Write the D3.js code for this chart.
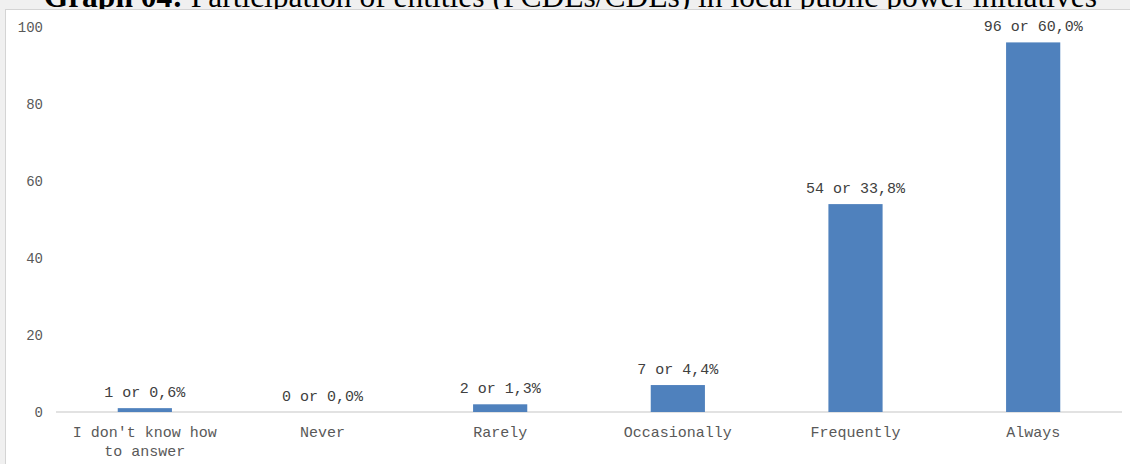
<!DOCTYPE html>
<html>
<head>
<meta charset="utf-8">
<script src="https://cdn.jsdelivr.net/npm/d3@7/dist/d3.min.js"></script>
<style>
  html, body { margin: 0; padding: 0; background: #f0f0f0; }
  svg { display: block; }
</style>
</head>
<body>
<svg id="chart" width="1130" height="464"></svg>
<script>
// Survey answers: counts and share of respondents
const categories = ["I don't know how|to answer", "Never", "Rarely", "Occasionally", "Frequently", "Always"];
const counts = [1, 0, 2, 7, 54, 96];
const shares = ["0,6%", "0,0%", "1,3%", "4,4%", "33,8%", "60,0%"];
const yTicks = [0, 20, 40, 60, 80, 100];
const titleBold = "Graph 04:";
const titleRest = " Participation of entities (PCDEs/CDEs) in local public power initiatives";

const W = 1130, H = 464;
const svg = d3.select("#chart");

// Title (sits above the plot frame, its top runs off the page)
const title = svg.append("text")
  .attr("x", 1097).attr("y", 7)
  .attr("text-anchor", "end")
  .attr("font-family", "'Liberation Serif', 'Times New Roman', serif")
  .attr("font-size", 31.5)
  .attr("fill", "#000");
title.append("tspan").attr("font-weight", "bold").text(titleBold);
title.append("tspan").text(titleRest);

// White plot panel with a light frame
svg.append("rect")
  .attr("x", 5.5).attr("y", 9.5)
  .attr("width", W + 10).attr("height", H)
  .attr("fill", "#ffffff").attr("stroke", "#d4d4d4").attr("stroke-width", 1);

const x = d3.scaleBand()
  .domain(categories)
  .range([56, 1122])
  .paddingInner(0.695)
  .paddingOuter(0.3475);
const y = d3.scaleLinear().domain([0, 100]).range([412, 27]);

const mono = "'Liberation Mono', 'Courier New', monospace";

// Y axis labels (no axis line)
const yAxis = d3.axisLeft(y).tickValues(yTicks).tickSize(0).tickPadding(0);
const gy = svg.append("g").attr("transform", "translate(43,0)").call(yAxis);
gy.select(".domain").remove();
gy.selectAll("text")
  .attr("font-family", mono).attr("font-size", 14)
  .attr("fill", "#595959");

// Baseline
svg.append("line")
  .attr("x1", x.range()[0]).attr("x2", x.range()[1])
  .attr("y1", y(0)).attr("y2", y(0))
  .attr("stroke", "#d9d9d9").attr("stroke-width", 1.5);

// Bars
svg.append("g").selectAll("rect")
  .data(categories)
  .join("rect")
  .attr("x", d => x(d))
  .attr("width", x.bandwidth())
  .attr("y", (d, i) => y(counts[i]))
  .attr("height", (d, i) => y(0) - y(counts[i]))
  .attr("fill", "#4f81bd");

// Value labels
svg.append("g").selectAll("text")
  .data(categories)
  .join("text")
  .attr("x", d => x(d) + x.bandwidth() / 2)
  .attr("y", (d, i) => y(counts[i]) - 11)
  .attr("text-anchor", "middle")
  .attr("font-family", mono).attr("font-size", 15)
  .attr("fill", "#404040")
  .text((d, i) => `${counts[i]} or ${shares[i]}`);

// Category labels (wrapped on "|")
const gx = svg.append("g");
categories.forEach(c => {
  const cx = x(c) + x.bandwidth() / 2;
  const t = gx.append("text")
    .attr("x", cx)
    .attr("y", 437)
    .attr("text-anchor", "middle")
    .attr("font-family", mono).attr("font-size", 15)
    .attr("fill", "#595959");
  c.split("|").forEach((line, k) => {
    t.append("tspan")
      .attr("x", cx)
      .attr("dy", k === 0 ? 0 : 19)
      .text(line);
  });
});
</script>
</body>
</html>
